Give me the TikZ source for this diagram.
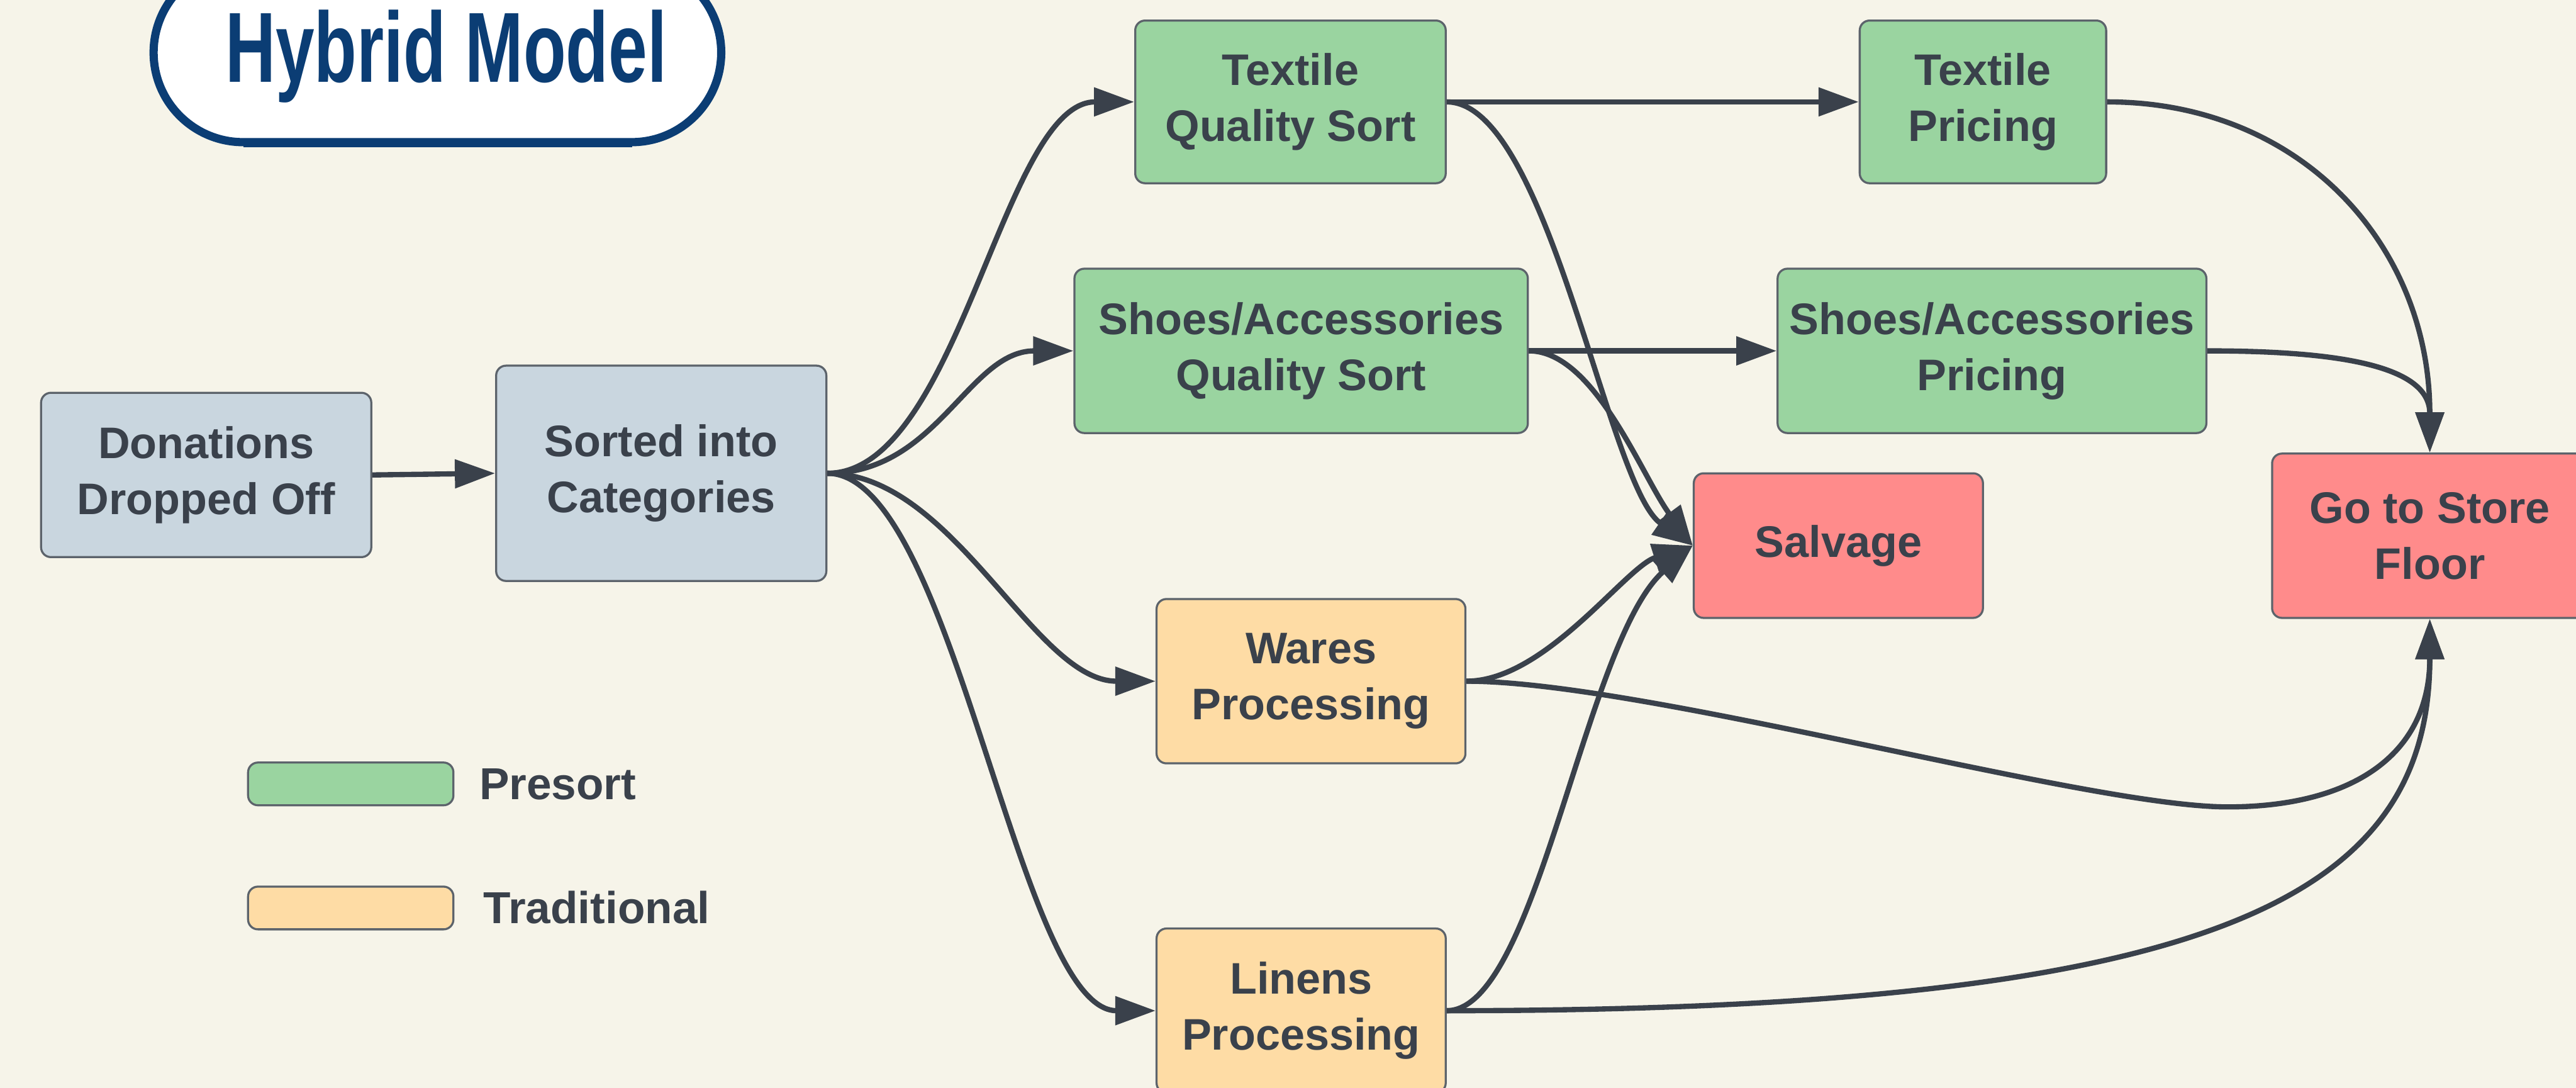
\documentclass[tikz,border=0pt]{standalone}
\usepackage{fontspec}
\usepackage{graphicx}
\setmainfont{Liberation Sans}
\usetikzlibrary{arrows.meta}

\definecolor{paper}{HTML}{F6F4E9}
\definecolor{ink}{HTML}{3A414B}
\definecolor{edge}{HTML}{5C636B}
\definecolor{slate}{HTML}{C9D6DF}
\definecolor{presort}{HTML}{9AD4A0}
\definecolor{trad}{HTML}{FEDCA5}
\definecolor{salv}{HTML}{FF8B8B}
\definecolor{navy}{HTML}{0B3D74}

\begin{document}
\begin{tikzpicture}[x=0.2mm, y=-0.2mm,
  sz/.style 2 args={minimum width=#1*0.2mm, minimum height=#2*0.2mm},
  box/.style={draw=edge, line width=0.25mm, rounded corners=1.2mm, text=ink,
    font=\bfseries\fontsize{15.3}{19.4}\selectfont, align=center, inner sep=0pt},
  legendtext/.style={anchor=base west, inner sep=0pt, text=ink,
    font=\bfseries\fontsize{15.5}{19.4}\selectfont},
  flow/.style={draw=ink, line width=0.64mm, -{Triangle[length=4.9mm,width=3.4mm]}}
]
% canvas
\fill[paper] (0,0) rectangle (1568,662);
\useasboundingbox (0,0) rectangle (1568,662);

% title badge
\draw[navy, line width=1mm, fill=white, rounded corners=10.9mm] (93.5,-22.5) rectangle (439,86.5);
\draw[navy, line width=0.6mm] (148,88) -- (385,88);
\node[anchor=base, text=navy, inner sep=0pt, font=\bfseries\fontsize{34.5}{40}\selectfont]
  (title) at (271.5,50) {\scalebox{0.7}[1]{Hybrid Model}};

% process steps
\node[box, fill=slate, sz={201}{100}] (don) at (125.5,289) {Donations\\Dropped Off};
\node[box, fill=slate, sz={201}{131}] (sort) at (402.5,288) {Sorted into\\Categories};
\node[box, fill=presort, sz={189}{99}] (tqs) at (785.5,62) {Textile\\Quality Sort};
\node[box, fill=presort, sz={276}{100}] (sqs) at (792,213.5) {Shoes/Accessories\\Quality Sort};
\node[box, fill=presort, sz={150}{99}] (tp) at (1207,62) {Textile\\Pricing};
\node[box, fill=presort, sz={261}{100}] (sp) at (1212.5,213.5) {Shoes/Accessories\\Pricing};
\node[box, fill=salv, sz={176}{88}] (salv) at (1119,332) {Salvage};
\node[box, fill=salv, sz={192}{100}] (store) at (1479,326) {Go to Store\\Floor};
\node[box, fill=trad, sz={188}{100}] (wares) at (798,414.5) {Wares\\Processing};
\node[box, fill=trad, sz={176}{100}] (lin) at (792,615) {Linens\\Processing};

% legend
\node[box, fill=presort, sz={125}{26}] (lgp) at (213.5,477) {};
\node[legendtext] (lgptext) at (291.5,486.6) {Presort};
\node[box, fill=trad, sz={125}{26}] (lgt) at (213.5,552.5) {};
\node[legendtext] (lgttext) at (294,562) {Traditional};

% intake
\draw[flow] (don.east) -- (sort.west);
\draw[flow] (sort.east) .. controls +(80,0) and +(-80,0) .. (tqs.west);
\draw[flow] (sort.east) .. controls +(67,0) and +(-64,0) .. (sqs.west);
\draw[flow] (sort.east) .. controls +(77,0) and +(-74,0) .. (wares.west);
\draw[flow] (sort.east) .. controls +(77,0) and +(-84,0) .. (lin.west);

% presort pricing
\draw[flow] (tqs.east) -- (tp.west);
\draw[flow] (sqs.east) -- (sp.west);

% to salvage
\draw[flow] (tqs.east) .. controls +(62,0) and +(-52,-36) .. (salv.west);
\draw[flow] (sqs.east) .. controls +(40,0) and +(-31,-42) .. (salv.west);
\draw[flow] (wares.east) .. controls +(48,0) and +(-41,13) .. (salv.west);
\draw[flow] (lin.east) .. controls +(55,0) and +(-66,58) .. (salv.west);

% to the store floor
\draw[flow] (tp.east) .. controls +(118,0) and +(0,-126) .. (store.north);
\draw[flow] (sp.east) .. controls +(87,0) and +(0,-51) .. (store.north);
\coordinate (dip) at (1356,491);
\draw[flow] (wares.east) .. controls +(108,0) and +(-86,0) .. (dip)
  .. controls +(74,0) and +(0,84) .. (store.south);
\draw[flow] (lin.east) .. controls +(470,0) and +(0,169) .. (store.south);
\end{tikzpicture}
\end{document}
